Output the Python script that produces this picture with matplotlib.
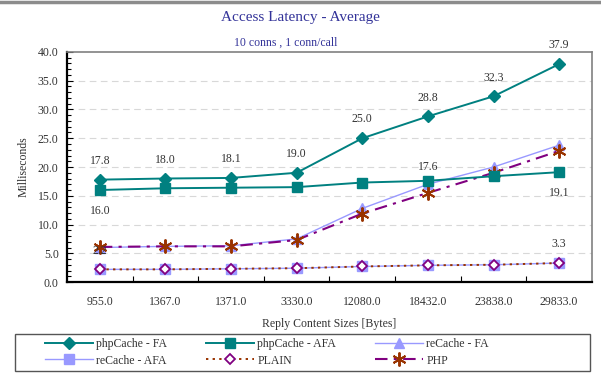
import numpy as np
import matplotlib.pyplot as plt
from matplotlib.lines import Line2D
from matplotlib.patches import Rectangle
from matplotlib.ticker import MultipleLocator, FixedLocator

# ---------------- DATA ----------------
sizes = ["955.0", "1367.0", "1371.0", "3330.0", "12080.0", "18432.0", "23838.0", "29833.0"]
php_cache_fa = [17.8, 18.0, 18.1, 19.0, 25.0, 28.8, 32.3, 37.9]
php_cache_afa = [16.0, 16.3, 16.4, 16.5, 17.3, 17.6, 18.4, 19.1]
re_cache_fa = [6.0, 6.2, 6.3, 7.5, 12.8, 17.0, 20.0, 23.8]
re_cache_afa = [2.2, 2.2, 2.3, 2.4, 2.7, 2.9, 3.0, 3.3]
plain = [2.2, 2.2, 2.3, 2.4, 2.7, 2.9, 3.0, 3.3]
php = [6.1, 6.2, 6.2, 7.3, 11.9, 15.5, 19.0, 22.8]

# ---------------- STYLE ----------------
plt.rcParams['font.family'] = ['Liberation Serif', 'DejaVu Serif']
TEAL = "#008080"
LAVENDER = "#9999FF"
PURPLE = "#800080"
RUST = "#993300"
TITLE_COLOR = "#333399"
TEXT = "#333333"

fig = plt.figure(figsize=(6.01, 3.84), dpi=100)
ax = fig.add_axes([0.1115, 0.2656, 0.8735, 0.599])

x = np.arange(len(sizes))

h_fa, = ax.plot(x, php_cache_fa, color=TEAL, lw=1.4, marker="D", ms=6.5,
                mfc=TEAL, mec=TEAL, zorder=6, label="phpCache - FA")
h_afa, = ax.plot(x, php_cache_afa, color=TEAL, lw=1.4, marker="s", ms=7.5,
                 mfc=TEAL, mec=TEAL, zorder=6, label="phpCache - AFA")
h_rfa, = ax.plot(x, re_cache_fa, color=LAVENDER, lw=1.0, marker="^", ms=7.5,
                 mfc=LAVENDER, mec=LAVENDER, zorder=3, label="reCache - FA")
h_rafa, = ax.plot(x, re_cache_afa, color=LAVENDER, lw=1.0, marker="s", ms=7.5,
                  mfc=LAVENDER, mec=LAVENDER, zorder=3, label="reCache - AFA")
h_plain, = ax.plot(x, plain, color=RUST, lw=1.4, ls=(0, (1.2, 2.2)), marker="D",
                   ms=5.5, mfc="white", mec=PURPLE, mew=1.3, zorder=4, label="PLAIN")
h_php, = ax.plot(x, php, color=PURPLE, lw=1.5, ls=(0, (6, 3, 1.5, 3)), marker=(6, 2, 0),
                 ms=10, mec=RUST, mew=1.4, zorder=4, label="PHP")

# ---------------- DATA LABELS ----------------
lab_kw = dict(fontsize=8.5, color=TEXT, ha="center", va="center",
              textcoords="offset points", zorder=10)
for xi, v in zip(x, php_cache_fa):
    ax.annotate(f"{v:.1f}", (xi, v), xytext=(0, 13.5), **lab_kw)
for idx, dy in [(0, -15), (5, 10), (7, -15)]:
    ax.annotate(f"{php_cache_afa[idx]:.1f}", (x[idx], php_cache_afa[idx]), xytext=(0, dy), **lab_kw)
for idx in [0, 7]:
    ax.annotate(f"{plain[idx]:.1f}", (x[idx], plain[idx]), xytext=(0, 13.5), **lab_kw)

# ---------------- AXES ----------------
ax.set_xlim(-0.5, len(sizes) - 0.5)
ax.set_ylim(0, 40)
ax.set_xticks(x)
ax.set_xticklabels(sizes, fontsize=8.5, color=TEXT)
ax.xaxis.set_minor_locator(FixedLocator(np.arange(0.5, len(sizes) - 0.5, 1.0)))
ax.tick_params(axis="x", which="major", length=0, pad=10)
ax.tick_params(axis="x", which="minor", direction="in", length=4, width=0.8)

ax.yaxis.set_major_locator(MultipleLocator(5))
ax.yaxis.set_minor_locator(MultipleLocator(1))
ax.set_yticklabels([f"{v:.1f}" for v in ax.get_yticks()], fontsize=8.5, color=TEXT)
ax.tick_params(axis="y", which="major", direction="in", length=4, width=0.8, pad=6)
ax.tick_params(axis="y", which="minor", direction="in", length=3, width=0.8)

for v in range(5, 40, 5):
    ax.axhline(v, color="#d8d8d8", lw=0.8, ls=(0, (6, 4)), zorder=0)

ax.spines["left"].set_linewidth(1.6)
ax.spines["bottom"].set_linewidth(1.6)
ax.spines["top"].set_color("#808080")
ax.spines["right"].set_color("#808080")
ax.spines["top"].set_linewidth(1.2)
ax.spines["right"].set_linewidth(1.2)

ax.set_ylabel("Milliseconds", fontsize=8.5, color=TEXT, labelpad=6)
ax.set_xlabel("Reply Content Sizes [Bytes]", fontsize=8.5, color=TEXT, labelpad=7)

# ---------------- TITLES ----------------
fig.text(0.5, 0.955, "Access Latency - Average", ha="center", va="center",
         fontsize=11, color=TITLE_COLOR)
fig.text(0.475, 0.888, "10 conns , 1 conn/call", ha="center", va="center",
         fontsize=8.5, color=TITLE_COLOR)

# gray frame line at top of image
fig.add_artist(Line2D([0, 1], [0.995, 0.995], transform=fig.transFigure,
                      color="#8c8c8c", lw=2.5))

# ---------------- LEGEND ----------------
fig.add_artist(Rectangle((0.025, 0.034), 0.957, 0.096, transform=fig.transFigure,
                         fill=False, edgecolor="#555555", lw=1.0))
handles = [h_fa, h_rafa, h_afa, h_plain, h_rfa, h_php]
leg = fig.legend(handles=handles, labels=[h.get_label() for h in handles],
                 ncol=3, loc="center left",
                 bbox_to_anchor=(45 / 601, 0.082 - 0.04, 444 / 601, 0.08),
                 mode="expand", fontsize=8.5, frameon=False,
                 handlelength=4.1, handletextpad=0.25, borderpad=0.0,
                 borderaxespad=0.0, labelspacing=0.35, columnspacing=1.0)
for t in leg.get_texts():
    t.set_color(TEXT)

fig.savefig("out.png", dpi=100)
